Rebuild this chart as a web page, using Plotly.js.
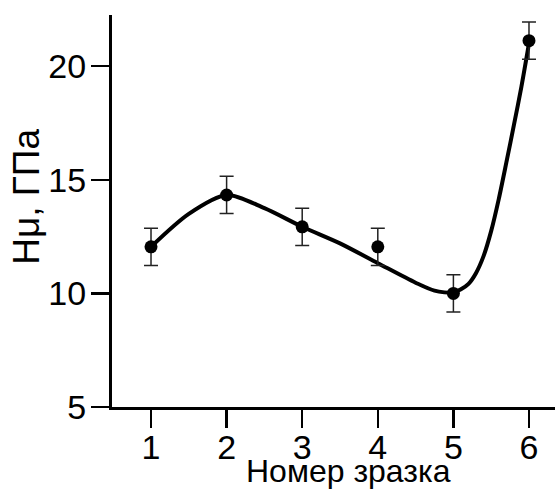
<!DOCTYPE html>
<html>
<head>
<meta charset="utf-8">
<script src="https://cdn.plot.ly/plotly-3.0.1.min.js"></script>
<style>html,body{margin:0;padding:0;background:#fff;}#chart{width:555px;height:489px;}</style>
</head>
<body>
<div id="chart"></div>
<script>
// Measured samples
const samples = [1, 2, 3, 4, 5, 6];
const hardness = [12.05, 14.33, 12.93, 12.05, 10.0, 21.12];
const errors = [0.82, 0.82, 0.82, 0.82, 0.82, 0.82];
// Fitted curve
const curveX = [1, 1.5, 2, 2.5, 3, 3.5, 4, 4.5, 4.75, 5, 5.1, 5.2, 5.3, 5.4, 5.5, 5.6, 5.7, 5.8, 5.9, 6];
const curveY = [12.05, 13.5, 14.33, 13.75, 12.93, 12.2, 11.33, 10.47, 10.12, 10.03, 10.18, 10.42, 10.9, 11.65, 12.75, 14.15, 15.75, 17.4, 19.1, 21.0];
const xTicks = [1, 2, 3, 4, 5, 6];
const yTicks = [5, 10, 15, 20];
const xTitle = 'Номер зразка';
const yTitle = 'Hμ, ГПа';

const font = 'Liberation Sans, Arial, sans-serif';

const traces = [
  {
    x: curveX, y: curveY, type: 'scatter', mode: 'lines',
    line: {color: '#000', width: 4, shape: 'spline', smoothing: 0.8},
    hoverinfo: 'skip', showlegend: false
  },
  {
    x: samples, y: hardness, type: 'scatter', mode: 'markers',
    marker: {color: '#000', size: 13},
    error_y: {type: 'data', array: errors, visible: true, color: '#222', thickness: 1.5, width: 7},
    showlegend: false
  }
];

const layout = {
  width: 555, height: 489,
  margin: {l: 112, r: 0, t: 15, b: 82},
  paper_bgcolor: '#fff', plot_bgcolor: '#fff',
  font: {family: font, color: '#000'},
  xaxis: {
    range: [0.484, 6.344], tickvals: xTicks, ticktext: xTicks.map(String),
    showline: true, linecolor: '#000', linewidth: 3,
    ticks: 'outside', ticklen: 18, tickwidth: 2.5, tickcolor: '#000',
    ticklabelstandoff: -10,
    showgrid: false, zeroline: false,
    tickfont: {family: font, size: 34, color: '#000'}
  },
  yaxis: {
    range: [5, 22.25], tickvals: yTicks, ticktext: yTicks.map(String),
    showline: true, linecolor: '#000', linewidth: 3,
    ticks: 'outside', ticklen: 18, tickwidth: 2.5, tickcolor: '#000',
    ticklabelstandoff: -2,
    showgrid: false, zeroline: false,
    tickfont: {family: font, size: 34, color: '#000'}
  },
  annotations: [
    {text: xTitle, xref: 'paper', yref: 'paper', x: 0.533, y: -0.163,
     xanchor: 'center', yanchor: 'middle', showarrow: false,
     font: {family: font, size: 32, color: '#000'}},
    {text: yTitle, xref: 'paper', yref: 'paper', x: -0.192, y: 0.536,
     xanchor: 'center', yanchor: 'middle', showarrow: false, textangle: -90,
     font: {family: font, size: 37, color: '#000'}}
  ]
};

Plotly.newPlot('chart', traces, layout, {staticPlot: true, displayModeBar: false});
</script>
</body>
</html>
